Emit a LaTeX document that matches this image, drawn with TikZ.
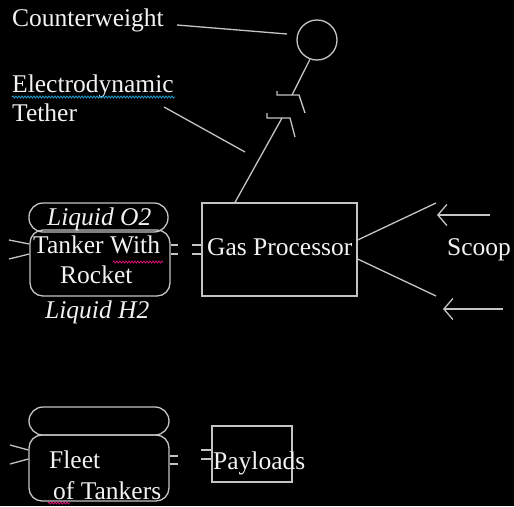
\documentclass[tikz,border=0pt]{standalone}
\usepackage{fontspec}
\setmainfont{Liberation Serif}
\usetikzlibrary{arrows.meta,decorations.pathmorphing}
\definecolor{ln}{HTML}{C4C4C4}
\definecolor{tx}{HTML}{F2F2F2}
\begin{document}
\begin{tikzpicture}[x=1pt,y=-1pt,
  lbl/.style={anchor=base west,inner sep=0pt,text=tx,font=\fontsize{25.5}{30}\selectfont},
  ilbl/.style={lbl,font=\fontsize{25.5}{30}\selectfont\itshape},
  wire/.style={draw=ln,line width=1.3pt},
  boxsq/.style={draw=ln,line width=1.3pt,inner sep=0pt,minimum width=#1},
  wavy/.style={line width=0.8pt,decorate,decoration={snake,amplitude=1pt,segment length=3pt}},
  barb/.style={wire,-{Straight Barb[length=9pt,width=21pt,line width=1.3pt]}}
]
\fill[black] (0,0) rectangle (514,506);
\useasboundingbox (0,0) rectangle (514,506);

% counterweight and tether
\node[draw=ln,line width=1.3pt,circle,minimum size=40pt,inner sep=0pt] (cw) at (317,40) {};
\node[lbl] (cwt) at (12,26) {Counterweight};
\coordinate (cwl1) at (177,25);
\coordinate (cwl2) at (287,34);
\draw[wire] (cwl1) -- (cwl2);

\node[lbl] (edt1) at (12,92) {Electrodynamic};
\node[lbl] (edt2) at (12,121) {Tether};
\draw[cyan!70!teal,wavy] (12,97) -- (175,97);
\coordinate (edl1) at (164,107);
\coordinate (edl2) at (245,152);
\draw[wire] (edl1) -- (edl2);

\coordinate (j1) at (292,95);
\coordinate (j2) at (282,118);
\draw[wire] (cw.250) -- (j1);
\draw[wire] (277,91) -- (277,95) -- (299,95) -- (305,113);
\draw[wire] (267,113) -- (267,118) -- (290,118) -- (295,137);

% gas processor
\node[draw=ln,line width=1.3pt,inner sep=0pt,minimum width=155pt,minimum height=93pt] (gp) at (279.5,249.5) {};
\node[lbl] (gpt) at (207,255) {Gas Processor};
\draw[wire] (j2) -- (gp.north west -| 235,0);

% scoop
\coordinate (sa) at (436,203);
\coordinate (sb) at (436,296);
\draw[wire] (gp.east |- 0,240) -- (sa);
\draw[wire] (gp.east |- 0,259) -- (sb);
\coordinate (a1s) at (490,215);
\coordinate (a1e) at (437,215);
\coordinate (a2s) at (503,309);
\coordinate (a2e) at (443,309);
\draw[barb] (a1s) -- (a1e);
\draw[barb] (a2s) -- (a2e);
\node[lbl] (sc) at (447,255) {Scoop};

% tanker
\node[draw=ln,line width=1.3pt,rounded corners=13pt,inner sep=0pt,minimum width=140pt,minimum height=66pt] (tk) at (100,263) {};
\node[draw=ln,line width=1.3pt,rounded corners=14pt,inner sep=0pt,minimum width=139pt,minimum height=29pt] (lo) at (98.5,217.5) {};
\node[ilbl] (lot) at (47,225) {Liquid O2};
\node[lbl] (tkt1) at (33,253) {Tanker With};
\node[lbl] (tkt2) at (60,283) {Rocket};
\node[ilbl] (lht) at (45,318) {Liquid H2};
\draw[magenta!70!purple,wavy] (113,262) -- (163,262);
\draw[wire] (9,240) -- (tk.west |- 0,244);
\draw[wire] (9,259) -- (tk.west |- 0,254);
\draw[wire] (tk.east |- 0,245) -- ++(7,0);
\draw[wire] (tk.east |- 0,254) -- ++(7,0);
\draw[wire] (gp.west |- 0,245) -- ++(-9,0);
\draw[wire] (gp.west |- 0,254) -- ++(-9,0);

% fleet
\node[draw=ln,line width=1.3pt,rounded corners=13pt,inner sep=0pt,minimum width=140pt,minimum height=66pt] (fl) at (99,468) {};
\node[draw=ln,line width=1.3pt,rounded corners=14pt,inner sep=0pt,minimum width=140pt,minimum height=28pt] (flp) at (99,421) {};
\node[lbl] (flt1) at (49,468) {Fleet};
\node[lbl] (flt2) at (53,499) {of Tankers};
\draw[magenta!70!purple,wavy] (48,503) -- (70,503);
\draw[wire] (10,445) -- (fl.west |- 0,450);
\draw[wire] (10,464) -- (fl.west |- 0,459);

% payloads
\node[draw=ln,line width=1.3pt,inner sep=0pt,minimum width=80pt,minimum height=56pt] (pl) at (252,454) {};
\node[lbl] (plt) at (213,469) {Payloads};
\draw[wire] (fl.east |- 0,456) -- ++(8,0);
\draw[wire] (fl.east |- 0,464) -- ++(8,0);
\draw[wire] (pl.west |- 0,450) -- ++(-10,0);
\draw[wire] (pl.west |- 0,459) -- ++(-10,0);
\end{tikzpicture}
\end{document}
